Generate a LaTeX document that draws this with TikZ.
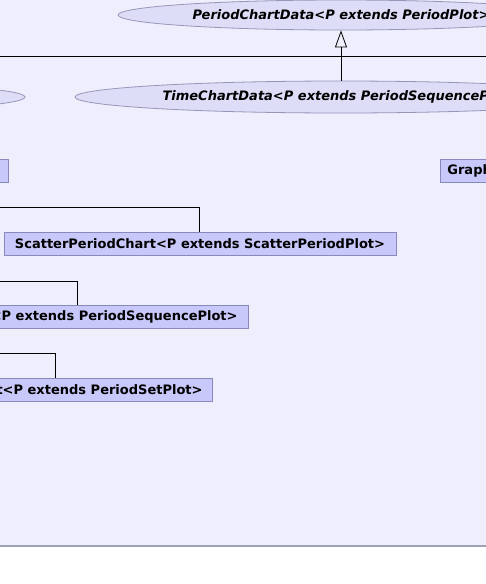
\documentclass[tikz,border=0pt]{standalone}
\usepackage{fontspec}
\setmainfont{DejaVu Sans}
\usetikzlibrary{shapes.geometric,arrows.meta}
\definecolor{bgcol}{RGB}{238,238,252}
\definecolor{boxfill}{RGB}{200,200,250}
\definecolor{boxline}{RGB}{136,136,187}
\definecolor{ellfill}{RGB}{221,221,248}
\definecolor{ellline}{RGB}{150,150,185}
\definecolor{edgecol}{RGB}{160,160,182}
\tikzset{
  classbox/.style={draw=boxline, fill=boxfill, line width=0.8pt, inner xsep=10pt, inner ysep=0pt,
    minimum height=23pt, font=\fontsize{13}{15}\selectfont\bfseries},
  ifaceell/.style={ellipse, draw=ellline, fill=ellfill, line width=0.8pt, inner sep=0pt,
    font=\fontsize{13}{15}\selectfont\bfseries\itshape},
  conn/.style={draw=black, line width=0.8pt},
  inherit/.style={conn, -{Triangle[open, width=12pt, length=17pt]}}
}
\begin{document}
\begin{tikzpicture}[x=1pt,y=-1pt]
\useasboundingbox (0,0) rectangle (486,584);
\begin{scope}
\clip (0,0) rectangle (486,584);
\fill[white] (0,0) rectangle (486,584);
\fill[bgcol] (0,0) rectangle (486,546);
\draw[edgecol, line width=1.2pt] (-5,546) -- (491,546);

% interfaces (ellipses)
\node[ifaceell, minimum width=446pt, minimum height=30pt] (pcd) at (341,15) {PeriodChartData<P extends PeriodPlot>};
\node[ifaceell, minimum width=532pt, minimum height=32pt] (tcd) at (341,97) {TimeChartData<P extends PeriodSequencePlot>};
\node[ifaceell, minimum width=460pt, minimum height=30pt] (lell) at (-205,97) {};

% classes (boxes)
\node[classbox, anchor=east, inner xsep=8pt] (lbox) at (9,170.5) {PeriodChart<P extends PeriodPlot>};
\node[classbox, anchor=west, inner xsep=7pt] (gbox) at (440,170.5) {GraphPeriodChart<P extends PeriodPlot>};
\node[classbox, minimum width=392pt, inner xsep=0pt] (spc) at (200,243.5) {ScatterPeriodChart<P extends ScatterPeriodPlot>};
\node[classbox, anchor=east, inner xsep=11pt] (tpc) at (249,316.5) {TimePeriodChart<P extends PeriodSequencePlot>};
\node[classbox, anchor=east, inner xsep=10pt] (stc) at (213,389.5) {SetPeriodChart<P extends PeriodSetPlot>};

% connector free ends
\coordinate (hl) at (-5,56);
\coordinate (hr) at (491,56);
\coordinate (c1) at (-5,207);
\coordinate (c2) at (-5,281);
\coordinate (c3) at (-5,353);

% generalization connectors
\draw[conn] (hl) -- (hr);
\draw[inherit] (tcd.north) -- (pcd.south);
\draw[conn] (spc.north -| 199,0) |- (c1);
\draw[conn] (tpc.north -| 77,0) |- (c2);
\draw[conn] (stc.north -| 55,0) |- (c3);
\end{scope}
\end{tikzpicture}
\end{document}
